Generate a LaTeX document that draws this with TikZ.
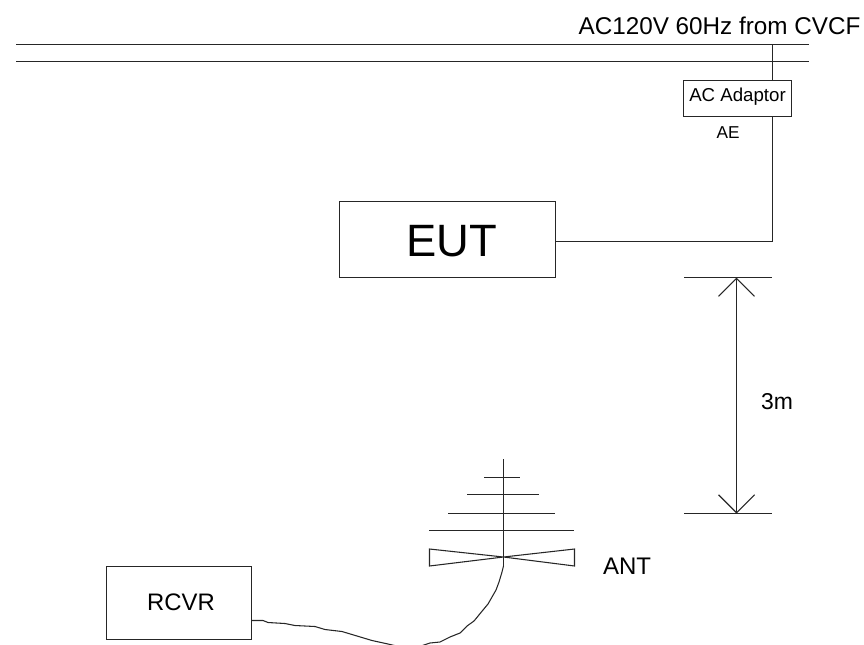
\documentclass[tikz,border=0pt]{standalone}
\usepackage{fontspec}
\setmainfont{Liberation Sans}
\usetikzlibrary{arrows.meta}
\tikzset{
  wire/.style={line width=0.8pt,black!85},
  unitbox/.style={draw,line width=0.8pt,black!85,inner sep=0pt,anchor=north west},
  label/.style={inner sep=0pt,text=black},
}
\begin{document}
\begin{tikzpicture}[x=0.75pt,y=-0.75pt]
  \useasboundingbox (0,0) rectangle (864,644);
  \coordinate (m0) at (16,44.5);
  \coordinate (m1) at (809,44.5);
  \coordinate (n0) at (16,61.5);
  \coordinate (n1) at (809,61.5);
  \coordinate (t0) at (772.5,44.5);
  \coordinate (t1) at (772.5,241.5);
  \coordinate (t2) at (772.5,80);
  \coordinate (t3) at (772.5,116);
  \node[unitbox,minimum width=81pt,minimum height=27pt] (adaptor) at (683,80) {};
  \node[unitbox,minimum width=162pt,minimum height=57pt] (eut) at (339,201) {};
  \node[unitbox,minimum width=108.75pt,minimum height=54.75pt] (rcvr) at (106,566) {};
  \coordinate (e0) at (555,241.5);
  \node[label,font=\fontsize{18.2}{20}\selectfont] (mains) at (719.5,26) {AC120V 60Hz from CVCF};
  \node[label,font=\fontsize{14}{16}\selectfont] (adaptortext) at (737.5,97) {AC Adaptor};
  \node[label,font=\fontsize{12.9}{15}\selectfont] (ae) at (728,133) {AE};
  \node[label,font=\fontsize{34}{36}\selectfont] (euttext) at (452,241) {EUT};
  \node[label,font=\fontsize{17.2}{20}\selectfont] (dist) at (777,402) {3m};
  \node[label,font=\fontsize{18}{20}\selectfont] (ant) at (627,566) {ANT};
  \node[label,font=\fontsize{17.9}{20}\selectfont] (rcvrtext) at (181,602) {RCVR};
  % mains and adaptor
  \draw[wire] (m0)--(m1);
  \draw[wire] (n0)--(n1);
  \draw[wire] (t0)--(t2);
  \draw[wire] (t3)--(t1)--(e0);
  % distance
  \coordinate (d0) at (736.5,277.5);
  \coordinate (d1) at (736.5,513.5);
  \draw[wire] (684,277.5)--(772,277.5);
  \draw[wire] (684,513.5)--(772,513.5);
  \draw[wire,{Straight Barb[length=13.5pt,width=27pt]}-{Straight Barb[length=13.5pt,width=27pt]}] (d0)--(d1);
  % antenna
  \coordinate (a0) at (503.5,459);
  \coordinate (a1) at (503.5,566);
  \coordinate (a2) at (503.5,557);
  \draw[wire] (a0)--(a1);
  \draw[wire] (484,477.5)--(520,477.5);
  \draw[wire] (467,494.5)--(539,494.5);
  \draw[wire] (448,513.5)--(555,513.5);
  \draw[wire] (429,530.5)--(574,530.5);
  \draw[wire] (a2)--(429.5,549)--(429.5,566)--(a2)--(574.5,549)--(574.5,566)--cycle;
  % cable
  \coordinate (c0) at (251,620.5);
  \draw[wire] (c0) -- (263,620.5) -- (268,622.5) -- (285,623.5) -- (295,625.5) -- (315,626.5) -- (325,629.5)
    -- (342,631.5) -- (372,640.5) -- (388,644) -- (405,648) -- (418,647) -- (430,643) -- (440,642)
    -- (450,637) -- (460,633) -- (467,626) -- (474,621) -- (483,610) -- (488,604) -- (492,597)
    -- (496,590) -- (499,582) -- (502,572) -- (a1);
\end{tikzpicture}
\end{document}
